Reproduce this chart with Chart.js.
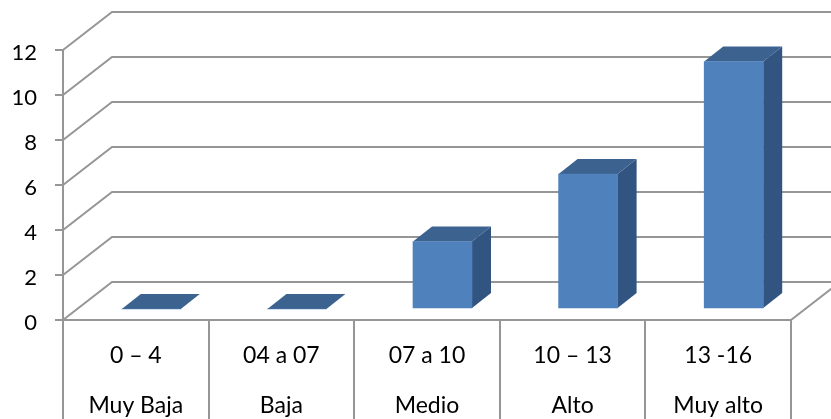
<!DOCTYPE html>
<html>
<head>
<meta charset="utf-8">
<script src="https://cdn.jsdelivr.net/npm/chart.js@4/dist/chart.umd.min.js"></script>
<style>
  html, body { margin: 0; padding: 0; background: #fff; overflow: hidden; }
  canvas { display: block; }
</style>
</head>
<body>
<canvas id="grafico" width="831" height="419"></canvas>
<script>
const rangos = ['0 – 4', '04 a 07', '07 a 10', '10 – 13', '13 -16'];
const niveles = ['Muy Baja', 'Baja', 'Medio', 'Alto', 'Muy alto'];
const valores = [0, 0, 3, 6, 11];
const marcasY = [0, 2, 4, 6, 8, 10, 12];

const colorLinea = '#969696';
const fondoX = 49, fondoY = 38;   // profundidad de la pared del fondo
const barraX = 15.5, barraY = 11; // donde empieza la barra sobre el piso
const ladoX = 19, ladoY = 15;     // profundidad de la barra

function poligono(ctx, puntos, color) {
  ctx.beginPath();
  puntos.forEach((p, i) => i ? ctx.lineTo(p[0], p[1]) : ctx.moveTo(p[0], p[1]));
  ctx.closePath();
  ctx.fillStyle = color;
  ctx.fill();
}

const paredes = {
  id: 'paredes',
  beforeDatasetsDraw(chart) {
    const { ctx, scales: { x, y } } = chart;
    ctx.save();
    ctx.strokeStyle = colorLinea;
    ctx.lineWidth = 2;
    marcasY.forEach(v => {
      const py = y.getPixelForValue(v);
      ctx.beginPath();
      ctx.moveTo(x.left, py);
      ctx.lineTo(x.left + fondoX, py - fondoY);
      ctx.lineTo(x.right + fondoX, py - fondoY);
      ctx.stroke();
    });
    const py0 = y.getPixelForValue(0);
    ctx.beginPath();
    ctx.moveTo(x.right, py0);
    ctx.lineTo(x.right + fondoX, py0 - fondoY);
    ctx.stroke();
    ctx.restore();
  }
};

const barras3d = {
  id: 'barras3d',
  beforeDatasetDraw(chart, args) {
    const { ctx } = chart;
    ctx.save();
    ctx.translate(barraX, -barraY);
    args.meta.data.forEach(b => {
      const izq = b.x - b.width / 2, der = b.x + b.width / 2;
      poligono(ctx, [[der, b.y], [der + ladoX, b.y - ladoY], [der + ladoX, b.base - ladoY], [der, b.base]], '#325480');
      poligono(ctx, [[izq, b.y], [izq + ladoX, b.y - ladoY], [der + ladoX, b.y - ladoY], [der, b.y]], '#3c6390');
    });
  },
  afterDatasetDraw(chart) {
    chart.ctx.restore();
  }
};

new Chart(document.getElementById('grafico'), {
  type: 'bar',
  data: {
    labels: rangos.map((r, i) => [r, niveles[i]]),
    datasets: [{
      data: valores,
      backgroundColor: '#4f81bd',
      barThickness: 59,
      clip: false
    }]
  },
  options: {
    responsive: false,
    animation: false,
    layout: { padding: { top: 50, right: 40, bottom: 0, left: 0 } },
    plugins: { legend: { display: false }, title: { display: false }, tooltip: { enabled: false } },
    scales: {
      x: {
        afterFit(scale) { scale.height = 99; },
        grid: { offset: true, drawOnChartArea: false, tickLength: 99, color: colorLinea, lineWidth: 2 },
        border: { color: colorLinea, width: 2 },
        ticks: {
          color: '#000',
          maxRotation: 0,
          padding: -88,
          font: { family: 'Lato', size: 23, lineHeight: 2.17 }
        }
      },
      y: {
        min: 0,
        max: 12,
        afterFit(scale) { scale.width = 63; },
        afterBuildTicks(scale) { scale.ticks = marcasY.map(v => ({ value: v })); },
        grid: { drawOnChartArea: false, tickLength: 8, color: colorLinea, lineWidth: 2 },
        border: { color: colorLinea, width: 2 },
        ticks: {
          color: '#000',
          padding: 18,
          // linea vacia arriba para bajar el numero unos 3px
          callback: v => ['', String(v)],
          font: { family: 'Lato', size: 22, lineHeight: '6px' }
        }
      }
    }
  },
  plugins: [paredes, barras3d]
});
</script>
</body>
</html>
